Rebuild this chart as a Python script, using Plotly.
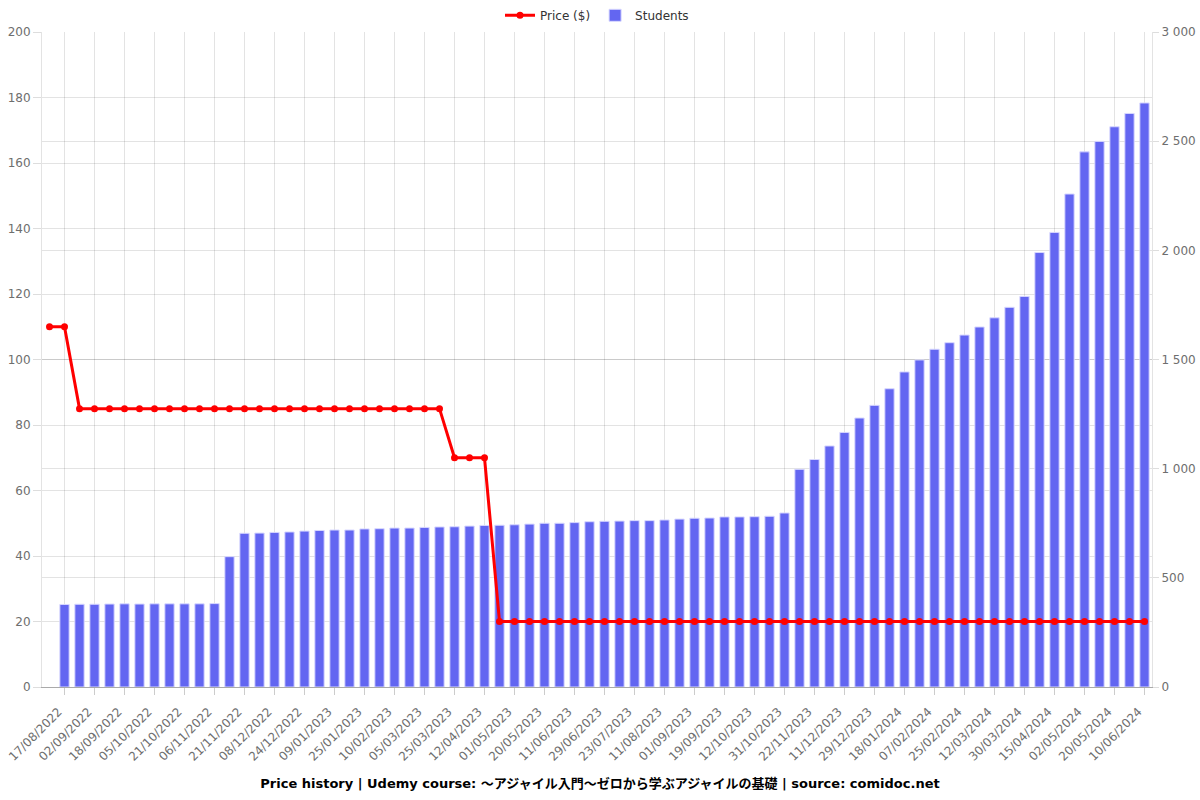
import plotly.graph_objects as go

# ---- data ----
point_index = list(range(74))

students = [None, 378, 379, 379, 380, 381, 380, 381, 381, 381,
            381, 382, 597, 704, 705, 708, 710, 714, 717, 719,
            719, 724, 725, 728, 728, 731, 733, 734, 737, 740,
            741, 743, 746, 750, 750, 753, 757, 759, 760, 762,
            762, 765, 769, 773, 774, 779, 779, 780, 782, 797,
            997, 1042, 1104, 1166, 1232, 1290, 1366, 1443, 1498, 1547,
            1577, 1612, 1649, 1691, 1739, 1789, 1990, 2082, 2258, 2451,
            2499, 2566, 2627, 2675]

price = [110, 110, 85, 85, 85, 85, 85, 85, 85, 85,
         85, 85, 85, 85, 85, 85, 85, 85, 85, 85,
         85, 85, 85, 85, 85, 85, 85, 70, 70, 70,
         20, 20, 20, 20, 20, 20, 20, 20, 20, 20,
         20, 20, 20, 20, 20, 20, 20, 20, 20, 20,
         20, 20, 20, 20, 20, 20, 20, 20, 20, 20,
         20, 20, 20, 20, 20, 20, 20, 20, 20, 20,
         20, 20, 20, 20]

tick_index = list(range(1, 74, 2))
tick_labels = ["17/08/2022", "02/09/2022", "18/09/2022", "05/10/2022", "21/10/2022",
               "06/11/2022", "21/11/2022", "08/12/2022", "24/12/2022", "09/01/2023",
               "25/01/2023", "10/02/2023", "05/03/2023", "25/03/2023", "12/04/2023",
               "01/05/2023", "20/05/2023", "11/06/2023", "29/06/2023", "23/07/2023",
               "11/08/2023", "01/09/2023", "19/09/2023", "12/10/2023", "31/10/2023",
               "22/11/2023", "11/12/2023", "29/12/2023", "18/01/2024", "07/02/2024",
               "25/02/2024", "12/03/2024", "30/03/2024", "15/04/2024", "02/05/2024",
               "20/05/2024", "10/06/2024"]

title_text = ("<b>Price history | Udemy course: 〜アジャイル入門〜ゼロから学ぶアジャイルの基礎"
              " | source: comidoc.net</b>")

FONT = "DejaVu Sans, Noto Sans CJK JP, sans-serif"
GRID = "rgba(0,0,0,0.11)"
TICKC = "#6e6e6e"

fig = go.Figure()
fig.add_trace(go.Bar(
    x=point_index, y=students, name="Students", yaxis="y",
    width=0.62,
    marker=dict(color="#6366f1", line=dict(color="rgba(215,215,255,1)", width=1)),
))
fig.add_trace(go.Scatter(
    x=point_index, y=price, name="Price ($)", yaxis="y2",
    mode="lines+markers",
    line=dict(color="#ff0000", width=3),
    marker=dict(color="#ff0000", size=7),
))

fig.update_layout(
    width=1200, height=800,
    paper_bgcolor="white", plot_bgcolor="white",
    margin=dict(l=42, r=48, t=32, b=113, autoexpand=False),
    font=dict(family=FONT, size=12, color=TICKC),
    separators=". ",
    showlegend=True,
    legend=dict(orientation="h", x=0.5, xanchor="center", y=0.999, yanchor="top",
                yref="container", traceorder="reversed",
                font=dict(size=12, color="#333333"), bgcolor="rgba(0,0,0,0)"),
    title=dict(text=title_text, x=0.5, xanchor="center", y=0.021, yanchor="middle",
               yref="container", font=dict(family=FONT, size=13, color="#000000")),
    xaxis=dict(range=[-0.5, 73.5], tickmode="array", tickvals=tick_index, ticktext=tick_labels,
               tickangle=-45, showgrid=True, gridcolor=GRID, zeroline=False, automargin=False,
               showline=True, linecolor="#aaaaaa", linewidth=1,
               ticks="outside", ticklen=7, tickcolor="#cccccc",
               ticklabelstandoff=5, ticklabelshift=-6,
               tickfont=dict(size=12, color=TICKC)),
    yaxis=dict(side="right", range=[0, 3000], dtick=500, showgrid=True, gridcolor=GRID,
               zeroline=False, showline=True, linecolor="rgba(0,0,0,0.11)", automargin=False,
               ticks="outside", ticklen=6, tickcolor="#dddddd",
               separatethousands=True, tickfont=dict(size=12, color=TICKC)),
    yaxis2=dict(side="left", overlaying="y", range=[0, 200], dtick=20, showgrid=True,
                gridcolor=GRID, zeroline=False, showline=True, linecolor="rgba(0,0,0,0.11)",
                automargin=False, ticks="outside", ticklen=8, tickcolor="#dddddd",
                tickfont=dict(size=12, color=TICKC)),
)

fig.write_html("out.html")
